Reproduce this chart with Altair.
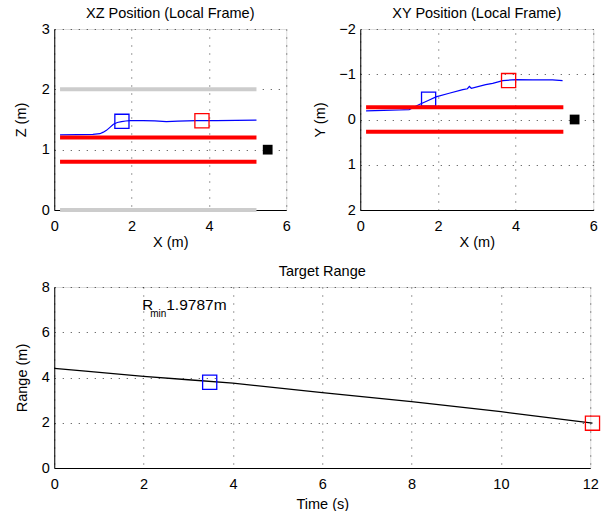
import altair as alt
import pandas as pd

FONT = "Liberation Sans"
FS = 14.5

# ---------------- XZ panel data ----------------
xz_traj_x = [0.15, 0.6, 1.0, 1.18, 1.27, 1.35, 1.44, 1.53, 1.63, 1.74, 1.85, 1.96, 2.3, 2.6, 2.9, 3.2, 3.68, 4.2, 4.7, 5.23]
xz_traj_z = [1.245, 1.25, 1.255, 1.265, 1.29, 1.32, 1.37, 1.42, 1.45, 1.465, 1.475, 1.48, 1.482, 1.478, 1.466, 1.472, 1.48, 1.482, 1.485, 1.49]
xz_red_z = [0.8, 1.2]
xz_gray_z = [0.0, 2.0]
guide_x_start = 0.15
guide_x_end = 5.23
xz_marker_x = [1.75, 3.82]
xz_marker_z = [1.47, 1.48]
marker_colors = ["#0000ff", "#ff0000"]
target_x = 5.52
target_z = 1.0
target_y = 0.0

# ---------------- XY panel data ----------------
xy_traj_x = [0.15, 0.6, 1.0, 1.26, 1.52, 1.75, 1.95, 2.29, 2.64, 2.76, 2.81, 2.86, 3.23, 3.41, 3.67, 4.01, 4.44, 4.95, 5.21]
xy_traj_y = [-0.19, -0.2, -0.21, -0.22, -0.33, -0.42, -0.5, -0.58, -0.66, -0.68, -0.73, -0.69, -0.77, -0.8, -0.86, -0.88, -0.875, -0.875, -0.86]
xy_red_y = [-0.27, 0.27]
xy_marker_x = [1.76, 3.82]
xy_marker_y = [-0.45, -0.86]

# ---------------- Range panel data ----------------
range_t = [0.0, 0.7, 2.0, 3.0, 4.0, 6.0, 8.0, 10.0, 12.05]
range_r = [4.40, 4.28, 4.05, 3.90, 3.75, 3.33, 2.93, 2.49, 1.98]
range_marker_t = [3.48, 12.05]
range_marker_r = [3.79, 1.98]
rmin = 1.9787
rmin_label_t = 1.97
rmin_label_r = 7.0

# ---------------- sizes ----------------
TL_W, TL_H = 232, 181
TR_W, TR_H = 233, 181
B_W, B_H = 536, 181


def x_axis(title, values, width, title_y):
    return alt.Axis(
        title=title, values=values, grid=True, gridDash=[1, 7], gridColor="#000",
        gridOpacity=0.75, gridWidth=1, ticks=False, tickSize=0, domainColor="#000",
        domainWidth=1, labelPadding=9, labelFont=FONT, labelFontSize=FS,
        labelColor="#000", labelFlush=False, labelOverlap=False,
        titleFont=FONT, titleFontSize=FS, titleFontWeight="normal", titleColor="#000",
        titleX=width / 2, titleY=title_y, titleBaseline="alphabetic", titleAlign="center",
        titleAngle=0,
    )


def y_axis(title, values, height, title_x):
    return alt.Axis(
        title=title, values=values, grid=True, gridDash=[1, 7], gridColor="#000",
        gridOpacity=0.75, gridWidth=1, ticks=False, tickSize=0, domainColor="#000",
        domainWidth=1, labelPadding=5, labelFont=FONT, labelFontSize=FS,
        labelColor="#000", labelFlush=False, labelOverlap=False,
        titleFont=FONT, titleFontSize=FS, titleFontWeight="normal", titleColor="#000",
        titleX=title_x, titleY=height / 2, titleBaseline="middle", titleAlign="center",
        titleAngle=270,
    )


def title(text):
    return alt.TitleParams(text=text, font=FONT, fontSize=FS, fontWeight="normal",
                           color="#000", anchor="middle", offset=-11.5,
                           baseline="alphabetic", frame="group")


# ================= XZ panel =================
xs_top = alt.Scale(domain=[0, 6], nice=False, zero=False)
zs = alt.Scale(domain=[0, 3], nice=False, zero=False)
X_tl = alt.X("x:Q", scale=xs_top, axis=x_axis("X (m)", [0, 2, 4, 6], TL_W, 36))
Z_tl = alt.Y("y:Q", scale=zs, axis=y_axis("Z (m)", [0, 1, 2, 3], TL_H, -32.5))

xz_traj = pd.DataFrame({"x": xz_traj_x, "y": xz_traj_z})
xz_gray = pd.DataFrame({"x": [guide_x_start] * 2, "x2": [guide_x_end] * 2, "y": xz_gray_z})
xz_red = pd.DataFrame({"x": [guide_x_start] * 2, "x2": [guide_x_end] * 2, "y": xz_red_z})
xz_mark = pd.DataFrame({"x": xz_marker_x, "y": xz_marker_z, "c": marker_colors})
xz_tgt = pd.DataFrame({"x": [target_x], "y": [target_z]})

tl = alt.layer(
    alt.Chart(xz_traj).mark_line(color="#0000ff", strokeWidth=1.2).encode(x=X_tl, y=Z_tl),
    alt.Chart(xz_mark).mark_point(shape="square", filled=False, size=200, strokeWidth=1.3, opacity=1)
    .encode(x=X_tl, y=Z_tl, color=alt.Color("c:N", scale=None)),
    alt.Chart(xz_gray).mark_rule(color="#cccccc", strokeWidth=4).encode(x=X_tl, x2="x2:Q", y=Z_tl),
    alt.Chart(xz_red).mark_rule(color="#ff0000", strokeWidth=4).encode(x=X_tl, x2="x2:Q", y=Z_tl),
    alt.Chart(xz_tgt).mark_point(shape="square", filled=True, size=95, color="#000", opacity=1)
    .encode(x=X_tl, y=Z_tl),
).properties(width=TL_W, height=TL_H, title=title("XZ Position (Local Frame)"))

# ================= XY panel =================
ys = alt.Scale(domain=[-2, 2], nice=False, zero=False, reverse=True)
X_tr = alt.X("x:Q", scale=xs_top, axis=x_axis("X (m)", [0, 2, 4, 6], TR_W, 36))
Y_tr = alt.Y("y:Q", scale=ys, axis=y_axis("Y (m)", [-2, -1, 0, 1, 2], TR_H, -40))

xy_traj = pd.DataFrame({"x": xy_traj_x, "y": xy_traj_y})
xy_red = pd.DataFrame({"x": [guide_x_start] * 2, "x2": [guide_x_end] * 2, "y": xy_red_y})
xy_mark = pd.DataFrame({"x": xy_marker_x, "y": xy_marker_y, "c": marker_colors})
xy_tgt = pd.DataFrame({"x": [target_x], "y": [target_y]})

tr = alt.layer(
    alt.Chart(xy_traj).mark_line(color="#0000ff", strokeWidth=1.2).encode(x=X_tr, y=Y_tr),
    alt.Chart(xy_mark).mark_point(shape="square", filled=False, size=200, strokeWidth=1.3, opacity=1)
    .encode(x=X_tr, y=Y_tr, color=alt.Color("c:N", scale=None)),
    alt.Chart(xy_red).mark_rule(color="#ff0000", strokeWidth=4).encode(x=X_tr, x2="x2:Q", y=Y_tr),
    alt.Chart(xy_tgt).mark_point(shape="square", filled=True, size=95, color="#000", opacity=1)
    .encode(x=X_tr, y=Y_tr),
).properties(width=TR_W, height=TR_H, title=title("XY Position (Local Frame)"))

# ================= Range panel =================
ts = alt.Scale(domain=[0, 12], nice=False, zero=False)
rs = alt.Scale(domain=[0, 8], nice=False, zero=False)
X_b = alt.X("x:Q", scale=ts, axis=x_axis("Time (s)", [0, 2, 4, 6, 8, 10, 12], B_W, 40))
Y_b = alt.Y("y:Q", scale=rs, axis=y_axis("Range (m)", [0, 2, 4, 6, 8], B_H, -31.5))

rng = pd.DataFrame({"x": range_t, "y": range_r})
rng_mark = pd.DataFrame({"x": range_marker_t, "y": range_marker_r, "c": marker_colors})
lab = pd.DataFrame({"x": [rmin_label_t], "y": [rmin_label_r],
                    "r": ["R"], "sub": ["min"], "val": [f"{rmin}m"]})

bottom = alt.layer(
    alt.Chart(rng).mark_line(color="#000", strokeWidth=1.3).encode(x=X_b, y=Y_b),
    alt.Chart(rng_mark).mark_point(shape="square", filled=False, size=200, strokeWidth=1.3, opacity=1)
    .encode(x=X_b, y=Y_b, color=alt.Color("c:N", scale=None)),
    alt.Chart(lab).mark_text(font=FONT, fontSize=15, align="left", baseline="alphabetic", color="#000")
    .encode(x=X_b, y=Y_b, text="r:N"),
    alt.Chart(lab).mark_text(font=FONT, fontSize=10, align="left", baseline="alphabetic", color="#000",
                             dx=8, dy=7)
    .encode(x=X_b, y=Y_b, text="sub:N"),
    alt.Chart(lab).mark_text(font=FONT, fontSize=15.5, align="left", baseline="alphabetic", color="#000",
                             dx=24)
    .encode(x=X_b, y=Y_b, text="val:N"),
).properties(width=B_W, height=B_H, title=title("Target Range"))

top = alt.hconcat(tl, tr, spacing=74, bounds="flush")
chart = alt.vconcat(top, bottom, spacing=14).properties(
    padding={"left": 13.25, "top": 5, "right": 0, "bottom": 0},
    autosize=alt.AutoSizeParams(type="pad"),
).configure_view(stroke=None).configure(background="#ffffff")

chart.save("out.html", embed_options={"renderer": "svg", "actions": False})
